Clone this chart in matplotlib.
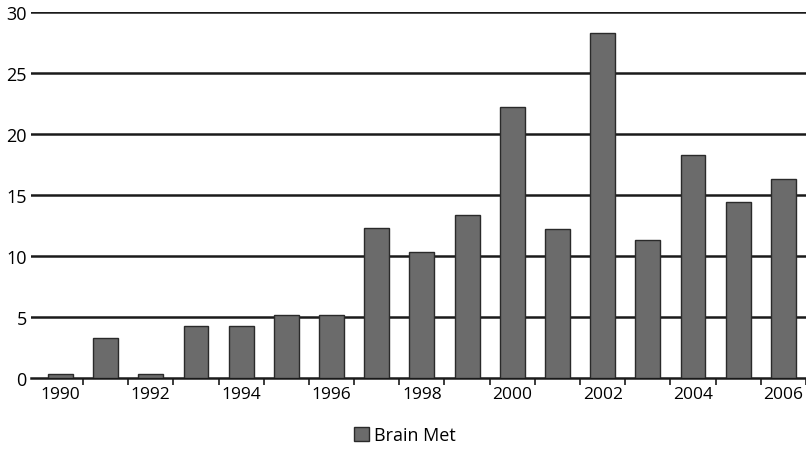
import matplotlib.pyplot as plt
import numpy as np

years = list(range(1990, 2007))
brain_met = [0.3, 3.3, 0.3, 4.3, 4.3, 5.2, 5.2, 12.3, 10.3, 13.4, 22.2, 12.2, 28.3, 11.3, 18.3, 14.4, 16.3]
tick_labels = [str(y) if y % 2 == 0 else '' for y in years]

plt.rcParams['font.family'] = ['Open Sans', 'DejaVu Sans']

fig = plt.figure(figsize=(8.06, 4.52), dpi=100)
ax = fig.add_axes([31 / 806, 1 - 379 / 452, 775 / 806, 366 / 452])

x = np.arange(len(years))
ax.bar(x, brain_met, width=0.55, color='#6b6b6b', edgecolor='#2a2a2a', linewidth=1,
       label='Brain Met', zorder=3)

# gridlines
for v in range(5, 35, 5):
    ax.axhline(v, color='#1a1a1a', linewidth=1.8, zorder=2)

ax.set_xlim(-0.65, 16.5)
ax.set_ylim(0, 30)
ax.set_yticks(range(0, 35, 5))
ax.tick_params(axis='y', length=0, labelsize=13, pad=3)

ax.set_xticks(x)
ax.set_xticklabels(tick_labels, fontsize=12.5)
ax.tick_params(axis='x', which='major', length=0, pad=6)
ax.set_xticks(x + 0.5, minor=True)
ax.tick_params(axis='x', which='minor', length=5, width=1.2, color='#1a1a1a')

for s in ['top', 'right', 'left']:
    ax.spines[s].set_visible(False)
ax.spines['bottom'].set_linewidth(1.8)
ax.spines['bottom'].set_color('#1a1a1a')

fig.legend(loc='center', bbox_to_anchor=(405 / 806, 1 - 436 / 452), frameon=False,
           fontsize=13, handlelength=0.8, handleheight=0.8, handletextpad=0.3)

fig.savefig('out.png', dpi=100)
